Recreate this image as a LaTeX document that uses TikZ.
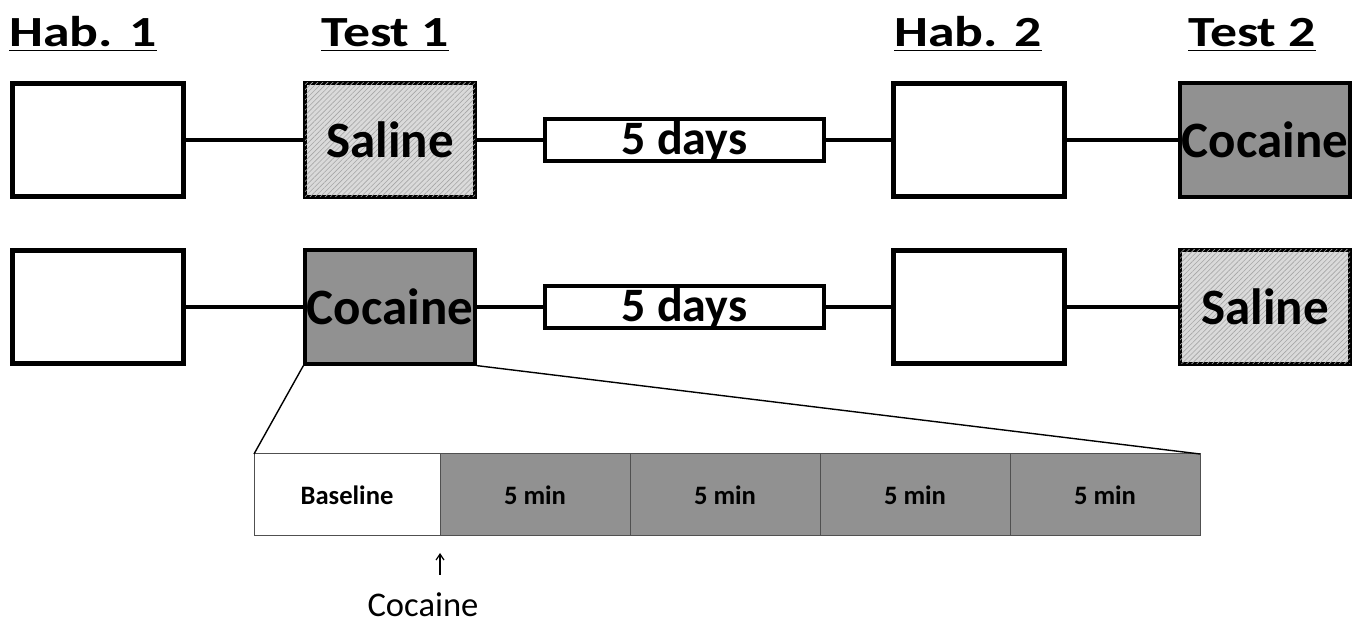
\documentclass[tikz,border=0pt]{standalone}
\usepackage{fontspec}
\setmainfont{Carlito}
\usetikzlibrary{positioning, patterns.meta, arrows.meta}
\definecolor{cocgray}{RGB}{145,145,145}
\definecolor{salgray}{RGB}{218,218,218}
\definecolor{darkgray}{RGB}{80,80,80}
\newcommand{\phasetitle}[1]{\scalebox{1.25}[1]{\underline{#1}}}

\begin{document}
\begin{tikzpicture}[
  x=0.5pt, y=-0.5pt,
  habbox/.style={rectangle, draw, line width=2.5pt, fill=white,
              minimum width=85.5pt, minimum height=56.5pt},
  testbox/.style={rectangle, draw, line width=1.6pt, inner sep=0pt,
              minimum width=85pt, minimum height=57pt,
              font=\fontsize{25.5}{28}\selectfont\bfseries},
  salbox/.style={testbox, fill=salgray,
              postaction={pattern={Lines[angle=45, distance=1.8pt, line width=0.3pt]},
                          pattern color=black!35}},
  cocbox/.style={testbox, fill=cocgray},
  daysbox/.style={rectangle, draw, line width=2pt, fill=white, inner sep=0pt,
              minimum width=139.5pt, text height=18pt, text depth=3pt,
              font=\fontsize{24}{26}\selectfont\bfseries},
  phase/.style={anchor=base, font=\fontsize{21.5}{24}\selectfont\bfseries},
  seg/.style={rectangle, draw=darkgray, line width=0.5pt, fill=cocgray,
              inner sep=0pt, outer sep=0pt, minimum width=95pt, minimum height=41pt,
              font=\fontsize{13.3}{15}\selectfont\bfseries},
  link/.style={line width=2pt},
  zoomline/.style={line width=0.7pt},
  arrow/.style={-{Straight Barb[length=3pt, width=4pt]}, line width=0.6pt},
]
  \useasboundingbox (0,0) rectangle (1361,624);

  % Titles
  \node[phase] (hab1t) at (83,47) {\phasetitle{Hab. 1}};
  \node[phase] (test1t) at (385,47) {\phasetitle{Test 1}};
  \node[phase] (hab2t) at (968,47) {\phasetitle{Hab. 2}};
  \node[phase] (test2t) at (1252,47) {\phasetitle{Test 2}};

  % Row 1: saline first
  \node[habbox] (hab1a) at (97.5,140) {};
  \node[salbox] (test1a) at (390,140) {Saline};
  \node[daysbox] (daysa) at (684.5,140) {5 days};
  \node[habbox] (hab2a) at (979,140) {};
  \node[cocbox] (test2a) at (1265,140) {Cocaine};

  % Row 2: cocaine first
  \node[habbox] (hab1b) at (97.5,307) {};
  \node[cocbox] (test1b) at (390,307) {Cocaine};
  \node[daysbox] (daysb) at (684.5,307) {5 days};
  \node[habbox] (hab2b) at (979,307) {};
  \node[salbox] (test2b) at (1265,307) {Saline};

  % Connectors
  \draw[link] (hab1a) -- (test1a);
  \draw[link] (test1a) -- (daysa);
  \draw[link] (daysa) -- (hab2a);
  \draw[link] (hab2a) -- (test2a);
  \draw[link] (hab1b) -- (test1b);
  \draw[link] (test1b) -- (daysb);
  \draw[link] (daysb) -- (hab2b);
  \draw[link] (hab2b) -- (test2b);

  % Session timeline
  \node[seg, fill=white, minimum width=93pt] (base) at (347,495) {Baseline};
  \node[seg, right=0pt of base] (min1) {5 min};
  \node[seg, right=0pt of min1] (min2) {5 min};
  \node[seg, right=0pt of min2] (min3) {5 min};
  \node[seg, right=0pt of min3] (min4) {5 min};

  % Zoom lines
  \draw[zoomline] (test1b.south west) -- (base.north west);
  \draw[zoomline] (test1b.south east) -- (min4.north east);

  % Injection
  \node[font=\fontsize{17.3}{20}\selectfont] (injlbl) at (423,605) {Cocaine};
  \coordinate (inject) at (440,575);
  \draw[arrow, shorten >=8.5pt] (inject) -- (base.south east);
\end{tikzpicture}
\end{document}
